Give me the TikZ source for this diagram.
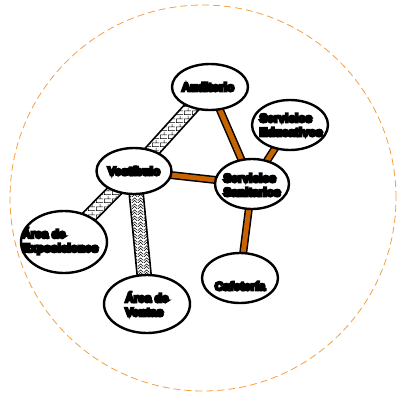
\documentclass[tikz,border=0pt]{standalone}
\usepackage{fontspec}
\setmainfont{Liberation Sans}
\newfontfamily\heavyfont[FakeBold=20]{Liberation Sans Bold}
\usetikzlibrary{shapes.geometric,calc,patterns}
\pgfdeclarepatternformonly{bigbricks}{\pgfpointorigin}{\pgfpoint{8pt}{8pt}}{\pgfpoint{8pt}{8pt}}{%
  \pgfsetlinewidth{0.6pt}%
  \pgfpathmoveto{\pgfpoint{0pt}{0.5pt}}\pgfpathlineto{\pgfpoint{8pt}{0.5pt}}%
  \pgfpathmoveto{\pgfpoint{0pt}{4.5pt}}\pgfpathlineto{\pgfpoint{8pt}{4.5pt}}%
  \pgfpathmoveto{\pgfpoint{0.5pt}{0.5pt}}\pgfpathlineto{\pgfpoint{0.5pt}{4.5pt}}%
  \pgfpathmoveto{\pgfpoint{4.5pt}{4.5pt}}\pgfpathlineto{\pgfpoint{4.5pt}{8pt}}%
  \pgfusepath{stroke}}
\pgfdeclarepatternformonly{chevrons}{\pgfpointorigin}{\pgfpoint{6pt}{6pt}}{\pgfpoint{6pt}{6pt}}{%
  \pgfsetlinewidth{0.6pt}%
  \pgfpathmoveto{\pgfpoint{0pt}{0pt}}\pgfpathlineto{\pgfpoint{3pt}{3pt}}\pgfpathlineto{\pgfpoint{6pt}{0pt}}%
  \pgfpathmoveto{\pgfpoint{0pt}{3pt}}\pgfpathlineto{\pgfpoint{3pt}{6pt}}\pgfpathlineto{\pgfpoint{6pt}{3pt}}%
  \pgfusepath{stroke}}
\definecolor{linkorange}{HTML}{C86400}
\definecolor{ringorange}{HTML}{F5A040}
\tikzset{
  place/.style={ellipse, draw=black, line width=2.4pt, fill=white, minimum width=#1, inner sep=0pt},
  lbl/.style={align=#1, inner sep=0pt, font=\heavyfont\fontsize{11.8}{14}\selectfont},
}
\newcommand{\bandlink}[3]{%
  \path[#3, draw=black, line width=1.6pt]
    ($(#1)!7pt!90:(#2)$) -- ($(#2)!7pt!-90:(#1)$) -- ($(#2)!7pt!90:(#1)$) -- ($(#1)!7pt!-90:(#2)$) -- cycle;}
\begin{document}
\begin{tikzpicture}[x=1pt,y=-1pt]
\useasboundingbox (0,0) rectangle (398,394);
\node[draw=ringorange, dashed, dash pattern=on 7pt off 4pt, line width=0.8pt, circle, minimum size=386pt, inner sep=0pt] (ring) at (203,198) {};
% node positions
\coordinate (pA) at (210,87);
\coordinate (pV) at (134,171);
\coordinate (pS) at (252,184);
\coordinate (pE) at (290,125);
\coordinate (pX) at (64,242);
\coordinate (pW) at (147,304);
\coordinate (pC) at (240,278);
% patterned links
\bandlink{pA}{pV}{pattern=bigbricks}
\bandlink{pV}{pX}{pattern=bigbricks}
\bandlink{pV}{pW}{pattern=chevrons}
% orange links
\foreach \a/\b in {pA/pS, pV/pS, pS/pE, pS/pC}{
  \draw[line width=8pt, black] (\a) -- (\b);
  \draw[line width=5pt, linkorange] (\a) -- (\b);
}
% nodes
\node[place=76pt, minimum height=46pt] (aud) at (pA) {};
\node[place=75pt, minimum height=46pt] (ves) at (pV) {};
\node[place=74pt, minimum height=50pt] (san) at (pS) {};
\node[place=76pt, minimum height=50pt] (edu) at (pE) {};
\node[place=86pt, minimum height=62pt] (exp) at (pX) {};
\node[place=86pt, minimum height=58pt] (ven) at (pW) {};
\node[place=76pt, minimum height=50pt] (caf) at (pC) {};
% labels
\node[lbl=center] (audt) at (208,87) {Auditorio};
\node[lbl=center] (vest) at (134,171) {Vestíbulo};
\node[lbl=left] (sant) at (252,185) {Servicios\\Sanitarios};
\node[lbl=left] (edut) at (291,125) {Servicios\\Educativos};
\node[lbl=left, anchor=west] (expt) at (22,241) {Área de\\Exposiciones};
\node[lbl=left, anchor=west] (vent) at (125,304) {Área de\\Ventas};
\node[lbl=center] (caft) at (240,286) {Cafetería};
\end{tikzpicture}
\end{document}
